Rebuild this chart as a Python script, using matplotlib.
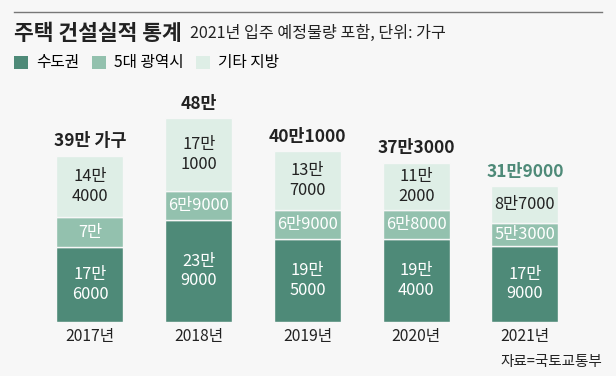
import matplotlib.pyplot as plt
from matplotlib.lines import Line2D
from matplotlib.patches import Patch

plt.rcParams['font.family'] = ['Noto Sans CJK KR', 'DejaVu Sans']

years = ['2017년', '2018년', '2019년', '2020년', '2021년']
capital = [176000, 239000, 195000, 194000, 179000]      # 수도권
metro = [70000, 69000, 69000, 68000, 53000]             # 5대 광역시
other = [144000, 171000, 137000, 112000, 87000]         # 기타 지방
totals = [390000, 480000, 401000, 373000, 319000]
series_names = ['수도권', '5대 광역시', '기타 지방']

BG = '#f7f7f7'
C_DARK = '#4e8a78'
C_MID = '#93c1ae'
C_LIGHT = '#deeee6'


def man(v, split=False):
    # 176000 -> "17만6000" (or two lines)
    big, rest = divmod(v, 10000)
    s = f'{big}만'
    if rest:
        s += ('\n' if split else '') + str(rest)
    return s


fig = plt.figure(figsize=(6.16, 3.76), dpi=100, facecolor=BG)
ax = fig.add_axes([35.6 / 616, 54 / 376, 543.75 / 616, 212.8 / 376])
ax.set_facecolor(BG)

x = range(len(years))
w = 0.616
bottoms2 = [a + b for a, b in zip(capital, metro)]
b1 = ax.bar(x, capital, w, color=C_DARK, edgecolor=BG, linewidth=1)
b2 = ax.bar(x, metro, w, bottom=capital, color=C_MID, edgecolor=BG, linewidth=1)
b3 = ax.bar(x, other, w, bottom=bottoms2, color=C_LIGHT, edgecolor=BG, linewidth=1)

for i in x:
    ax.text(i, capital[i] / 2, man(capital[i], True), ha='center', va='center',
            color='white', fontsize=11.8, linespacing=1.2)
    ax.text(i, capital[i] + metro[i] / 2, man(metro[i]), ha='center', va='center',
            color='white', fontsize=11.8)
    ax.text(i, bottoms2[i] + other[i] / 2, man(other[i], other[i] > 100000),
            ha='center', va='center', color='#222222', fontsize=11.8, linespacing=1.2)
    top = bottoms2[i] + other[i]
    label = man(totals[i]) + (' 가구' if i == 0 else '')
    ax.annotate(label, (i, top), xytext=(0, 4), textcoords='offset points',
                ha='center', va='bottom', fontsize=12.5, fontweight='bold',
                color=C_DARK if i == len(years) - 1 else '#222222')

ax.set_xlim(-0.5, len(years) - 0.5)
ax.set_ylim(0, 500000)
ax.set_xticks(list(x))
ax.set_xticklabels(years, fontsize=11.3, color='#222222')
ax.tick_params(axis='x', length=0, pad=4)
ax.set_yticks([])
for s in ax.spines.values():
    s.set_visible(False)

# header
fig.add_artist(Line2D([14 / 616, 602 / 616], [1 - 12 / 376, 1 - 12 / 376],
                      color='#777777', linewidth=1))
fig.text(14 / 616, 1 - 33 / 376, '주택 건설실적 통계', fontsize=15.5, fontweight='bold',
         va='center', ha='left', color='#222222')
fig.text(190 / 616, 1 - 33 / 376, '2021년 입주 예정물량 포함, 단위: 가구', fontsize=11.6,
         va='center', ha='left', color='#222222')

handles = [Patch(facecolor=c, edgecolor='none') for c in (C_DARK, C_MID, C_LIGHT)]
fig.legend(handles, series_names, loc='center left', bbox_to_anchor=(8 / 616, 1 - 63 / 376),
           ncol=3, frameon=False, fontsize=11.3, handlelength=0.9, handleheight=0.9,
           handletextpad=0.5, columnspacing=0.8, borderaxespad=0)

fig.text(602 / 616, 1 - 362 / 376, '자료=국토교통부', fontsize=10.5, ha='right', va='center',
         color='#222222')

fig.savefig('out.png', dpi=100, facecolor=BG)
